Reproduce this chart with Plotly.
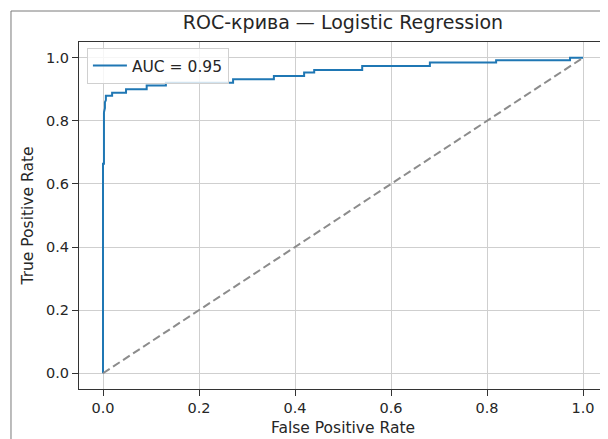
import plotly.graph_objects as go

# ROC points (step curve).
fpr = [0.0, 0.0, 0.002, 0.002, 0.004, 0.004, 0.006, 0.006, 0.019, 0.019,
       0.048, 0.048, 0.091, 0.091, 0.131, 0.131, 0.271, 0.271, 0.356, 0.356,
       0.419, 0.419, 0.44, 0.44, 0.54, 0.54, 0.681, 0.681, 0.819, 0.819,
       0.973, 0.973, 1.0]
tpr = [0.0, 0.664, 0.664, 0.827, 0.840, 0.859, 0.866, 0.880, 0.880, 0.889,
       0.889, 0.900, 0.900, 0.912, 0.912, 0.921, 0.921, 0.932, 0.932, 0.942,
       0.942, 0.953, 0.953, 0.961, 0.961, 0.974, 0.974, 0.985, 0.985, 0.992,
       0.992, 1.0, 1.0]
auc_label = 'AUC = 0.95'
chance_x = [0, 1]
chance_y = [0, 1]
ticks = [0.0, 0.2, 0.4, 0.6, 0.8, 1.0]
tick_text = ['0.0', '0.2', '0.4', '0.6', '0.8', '1.0']

font = 'DejaVu Sans'

# Traces.
roc = go.Scatter(x=fpr, y=tpr, mode='lines', name=auc_label,
                 line=dict(color='#1f77b4', width=2))
chance = go.Scatter(x=chance_x, y=chance_y, mode='lines', showlegend=False,
                    line=dict(color='#8c8c8c', width=2, dash='8px,4px'))

axis = dict(range=[-0.05, 1.05], tickvals=ticks, ticktext=tick_text,
            showgrid=True, gridcolor='#cfcfcf', gridwidth=1, zeroline=False,
            showline=True, linecolor='#333333', linewidth=1, mirror=True,
            ticks='outside', ticklen=6, tickcolor='#333333', automargin=False,
            tickfont=dict(family=font, size=14.5, color='#262626'))

# The page body adds 8px around the figure, so the figure is 600x431.
layout = go.Layout(
    width=600, height=431,
    margin=dict(l=71, r=1, t=34, b=50),
    paper_bgcolor='white', plot_bgcolor='white',
    font=dict(family=font, color='#262626'),
    title=dict(text='ROC-крива — Logistic Regression', x=0.5, xref='paper',
               y=1 - 14 / 431, yref='container', yanchor='middle',
               font=dict(family=font, size=19, color='#262626'),
               automargin=False),
    xaxis=dict(axis, title=dict(text='False Positive Rate', standoff=6,
                                font=dict(family=font, size=15.5))),
    yaxis=dict(axis, title=dict(text='True Positive Rate', standoff=8,
                                font=dict(family=font, size=15.5))),
    legend=dict(x=0.015, y=0.983, xanchor='left', yanchor='top',
                bgcolor='rgba(255,255,255,0.8)', bordercolor='#d0d0d0',
                borderwidth=1, itemwidth=34,
                font=dict(family=font, size=15.5, color='#262626')),
    # Outer output-cell frame (left and top edges).
    shapes=[dict(type='path', xref='paper', yref='paper',
                 path='M -0.1288,-0.3 L -0.1288,1.0893 L 1.2,1.0893',
                 line=dict(color='#7a7a7a', width=1))],
)

fig = go.Figure(data=[roc, chance], layout=layout)
fig.write_html('out.html')
